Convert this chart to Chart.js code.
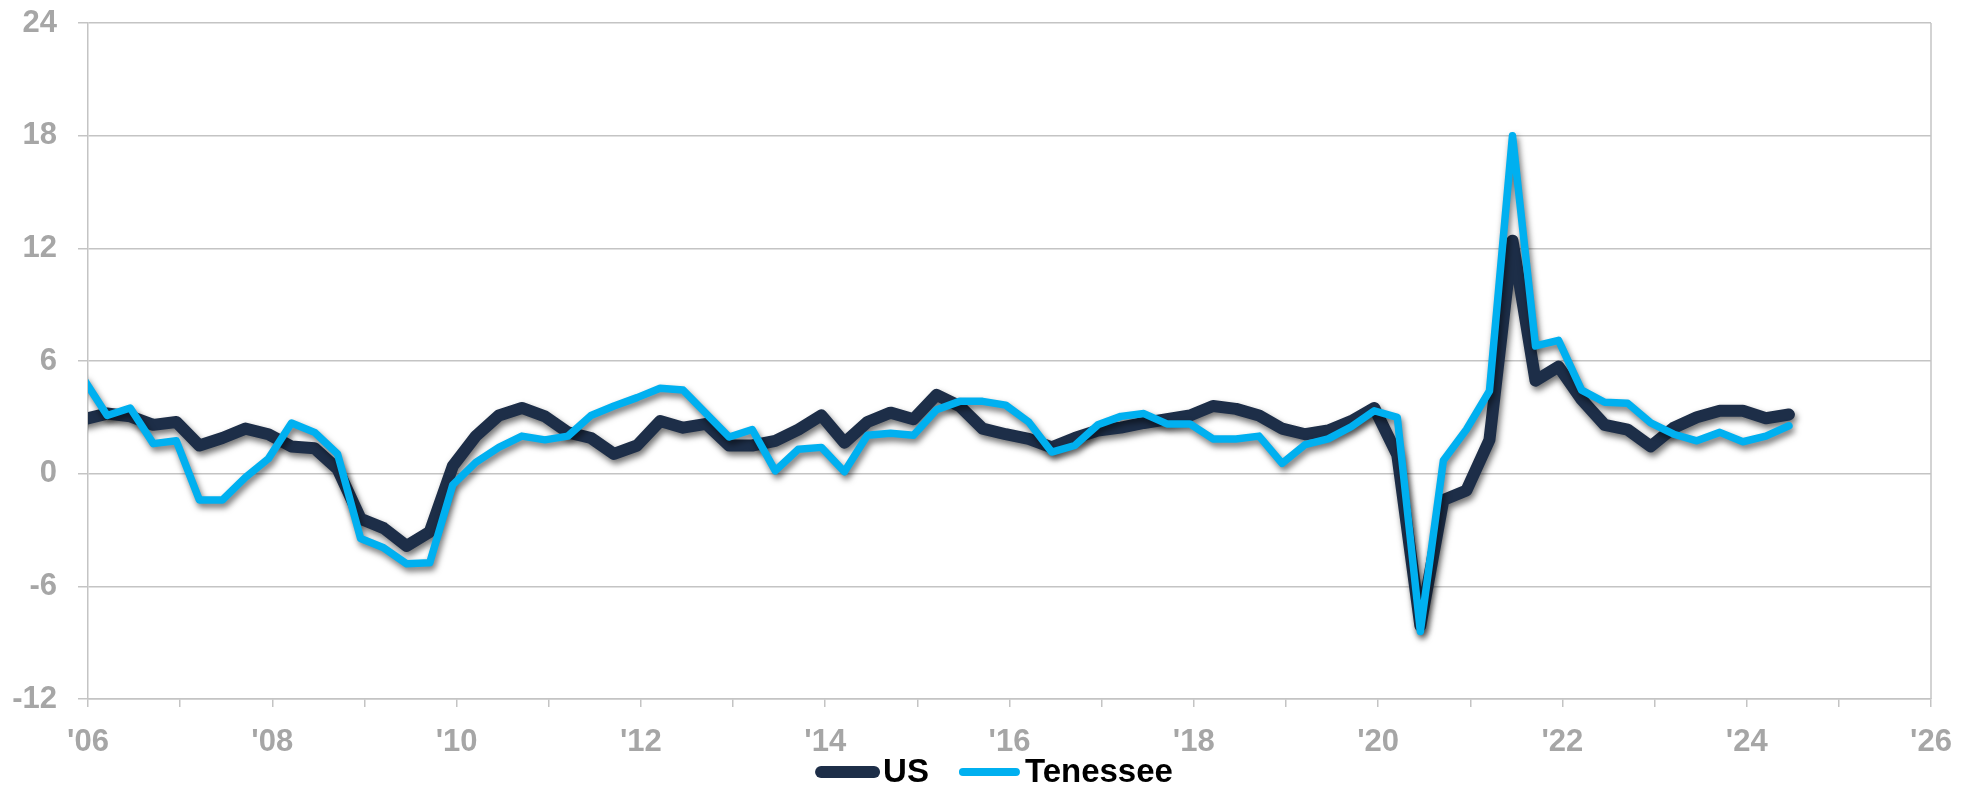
<!DOCTYPE html>
<html>
<head>
<meta charset="utf-8">
<title>Employment growth: US vs Tennessee</title>
<script src="https://cdn.jsdelivr.net/npm/chart.js@4.4.1/dist/chart.umd.min.js"></script>
<style>
  html, body { margin: 0; padding: 0; background: #ffffff; }
  canvas { display: block; }
</style>
</head>
<body>
<canvas id="chart" width="1982" height="790"></canvas>
<script>
// Quarterly periods, 2005Q4 through 2024Q2
const firstYear = 2005, firstQuarter = 4, lastYear = 2024, lastQuarter = 2;
const quarters = [];
for (let y = firstYear, q = firstQuarter; y < lastYear || (y === lastYear && q <= lastQuarter); ) {
  quarters.push(y + 'Q' + q);
  q++; if (q > 4) { q = 1; y++; }
}

// Year-over-year growth, percent
const usValues = [
  2.9,
  3.2, 3.05, 2.6, 2.75,     // 2006
  1.5, 1.9, 2.4, 2.1,       // 2007
  1.45, 1.35, 0.25, -2.4,   // 2008
  -2.9, -3.85, -3.1, 0.4,   // 2009
  2.0, 3.1, 3.5, 3.05,      // 2010
  2.2, 1.9, 1.05, 1.5,      // 2011
  2.8, 2.45, 2.65, 1.5,     // 2012
  1.5, 1.75, 2.35, 3.1,     // 2013
  1.65, 2.75, 3.25, 2.9,    // 2014
  4.2, 3.6, 2.4, 2.1,       // 2015
  1.85, 1.4, 1.9, 2.3,      // 2016
  2.45, 2.7, 2.9, 3.1,      // 2017
  3.6, 3.45, 3.1, 2.4,      // 2018
  2.1, 2.3, 2.8, 3.5,       // 2019
  1.0, -8.1, -1.4, -0.9,    // 2020
  1.8, 12.4, 4.95, 5.7,     // 2021
  3.95, 2.6, 2.35, 1.45,    // 2022
  2.45, 3.0, 3.35, 3.35,    // 2023
  2.95, 3.15                // 2024
];
const tnValues = [
  5.0,
  3.1, 3.5, 1.6, 1.75,      // 2006
  -1.4, -1.4, -0.2, 0.8,    // 2007
  2.7, 2.2, 1.05, -3.45,    // 2008
  -3.95, -4.8, -4.75, -0.6, // 2009
  0.6, 1.4, 2.0, 1.8,       // 2010
  2.0, 3.1, 3.6, 4.05,      // 2011
  4.55, 4.45, 3.2, 1.95,    // 2012
  2.35, 0.15, 1.3, 1.4,     // 2013
  0.1, 2.05, 2.15, 2.05,    // 2014
  3.4, 3.85, 3.85, 3.65,    // 2015
  2.75, 1.15, 1.5, 2.6,     // 2016
  3.05, 3.2, 2.65, 2.65,    // 2017
  1.85, 1.85, 2.0, 0.55,    // 2018
  1.55, 1.85, 2.5, 3.35,    // 2019
  3.0, -8.4, 0.7, 2.35,     // 2020
  4.4, 18.0, 6.8, 7.1,      // 2021
  4.45, 3.8, 3.75, 2.7,     // 2022
  2.1, 1.75, 2.2, 1.7,      // 2023
  2.0, 2.55                 // 2024
];

const yTicks = { min: -12, max: 24, step: 6 };
const xYears = { min: 2006, max: 2026 };

const NAVY = '#1d2e48';
const BLUE = '#00b0f0';
const GRID = '#c4c4c4';
const TICK_TEXT = '#a6a6a6';
const FONT = '"Liberation Sans", Arial, sans-serif';

// place each quarter at the middle of its last month
function quarterToYear(label) {
  const y = parseInt(label.slice(0, 4), 10);
  const q = parseInt(label.slice(5), 10);
  return y + (3 * q - 0.5) / 12;
}
const toPoints = vals => quarters.map((p, i) => ({ x: quarterToYear(p), y: vals[i] }));

const lineShadow = {
  id: 'lineShadow',
  beforeDatasetDraw(chart) {
    const c = chart.ctx;
    c.save();
    c.shadowColor = 'rgba(0,0,0,0.55)';
    c.shadowBlur = 6;
    c.shadowOffsetX = 2;
    c.shadowOffsetY = 4;
  },
  afterDatasetDraw(chart) {
    chart.ctx.restore();
  }
};

const rightFrame = {
  id: 'rightFrame',
  beforeDatasetsDraw(chart) {
    const { ctx: c, chartArea: a } = chart;
    c.save();
    c.strokeStyle = GRID;
    c.lineWidth = 1.5;
    c.beginPath();
    c.moveTo(a.right, a.top);
    c.lineTo(a.right, a.bottom);
    c.stroke();
    c.restore();
  }
};

const bottomLegend = {
  id: 'bottomLegend',
  afterDraw(chart) {
    const c = chart.ctx;
    const items = [
      { text: 'US', color: NAVY, width: 12 },
      { text: 'Tenessee', color: BLUE, width: 8 }
    ];
    const seg = 53, gapText = 9, gapItem = 34;
    c.save();
    c.font = 'bold 33px ' + FONT;
    let total = 0;
    items.forEach((it, i) => {
      it.tw = c.measureText(it.text).width;
      total += seg + gapText + it.tw + (i < items.length - 1 ? gapItem : 0);
    });
    let x = chart.width / 2 + 6 - total / 2;
    const y = 772;
    items.forEach(it => {
      c.strokeStyle = it.color;
      c.lineWidth = it.width;
      c.lineCap = 'round';
      c.beginPath();
      c.moveTo(x, y);
      c.lineTo(x + seg, y);
      c.stroke();
      x += seg + gapText;
      c.fillStyle = '#000000';
      c.textBaseline = 'middle';
      c.textAlign = 'left';
      c.fillText(it.text, x, y + 1);
      x += it.tw + gapItem;
    });
    c.restore();
  }
};

new Chart(document.getElementById('chart'), {
  type: 'line',
  data: {
    datasets: [
      {
        label: 'US',
        data: toPoints(usValues),
        borderColor: NAVY,
        backgroundColor: NAVY,
        borderWidth: 12,
        pointRadius: 0,
        borderCapStyle: 'round',
        borderJoinStyle: 'round',
        tension: 0,
        order: 2
      },
      {
        label: 'Tenessee',
        data: toPoints(tnValues),
        borderColor: BLUE,
        backgroundColor: BLUE,
        borderWidth: 7.5,
        pointRadius: 0,
        borderCapStyle: 'round',
        borderJoinStyle: 'round',
        tension: 0,
        order: 1
      }
    ]
  },
  options: {
    responsive: false,
    animation: false,
    events: [],
    layout: { padding: { left: 0, right: 51, top: 23, bottom: 0 } },
    scales: {
      x: {
        type: 'linear',
        min: xYears.min,
        max: xYears.max,
        afterFit(scale) { scale.height = 91; },
        grid: { drawOnChartArea: false, drawTicks: true, tickLength: 8, color: GRID, lineWidth: 1.5 },
        border: { color: GRID, width: 1.5 },
        ticks: {
          stepSize: 1,
          autoSkip: false,
          maxRotation: 0,
          padding: 17,
          color: TICK_TEXT,
          font: { family: FONT, size: 31, weight: 'bold' },
          callback: v => (v % 2 === 0 ? "'" + String(v).slice(2) : '')
        }
      },
      y: {
        min: yTicks.min,
        max: yTicks.max,
        afterFit(scale) {
          scale.width = 88;
          scale.paddingTop = 0;
          scale.paddingBottom = 0;
        },
        grid: { color: GRID, lineWidth: 1.5, tickLength: 10 },
        border: { color: GRID, width: 1.5 },
        ticks: {
          stepSize: yTicks.step,
          padding: 21,
          color: TICK_TEXT,
          font: { family: FONT, size: 31, weight: 'bold', lineHeight: 1 }
        }
      }
    },
    plugins: {
      legend: { display: false },
      tooltip: { enabled: false }
    }
  },
  plugins: [lineShadow, rightFrame, bottomLegend]
});
</script>
</body>
</html>
